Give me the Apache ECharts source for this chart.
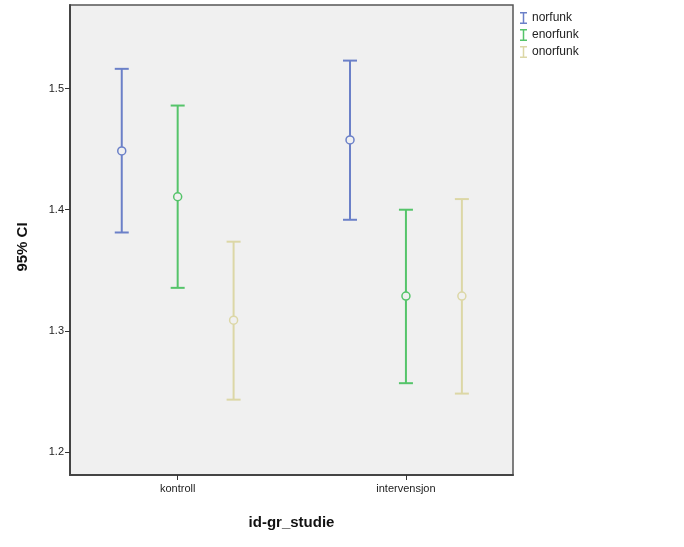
<!DOCTYPE html>
<html><head><meta charset="utf-8">
<script src="https://cdn.jsdelivr.net/npm/echarts@6/dist/echarts.min.js"></script>
<style>html,body{margin:0;padding:0;background:#fff}#c{width:684px;height:547px}</style>
</head><body><div id="c"></div>
<script>
const categories = ['kontroll', 'intervensjon'];
const seriesNames = ['norfunk', 'enorfunk', 'onorfunk'];
const yTicks = [1.2, 1.3, 1.4, 1.5];
// per series: values for [kontroll, intervensjon]
const norfunkMean = [1.4485, 1.4576];
const norfunkLow  = [1.3812, 1.3917];
const norfunkHigh = [1.5163, 1.5231];
const enorfunkMean = [1.4107, 1.3287];
const enorfunkLow  = [1.3355, 1.2568];
const enorfunkHigh = [1.4860, 1.4000];
const onorfunkMean = [1.3088, 1.3287];
const onorfunkLow  = [1.2432, 1.2482];
const onorfunkHigh = [1.3736, 1.4088];

const colors = ['#6b80c8', '#55c46a', '#dcd7a6'];
const offsets = [-0.245, 0, 0.245];
const stats = [
  [norfunkLow, norfunkMean, norfunkHigh],
  [enorfunkLow, enorfunkMean, enorfunkHigh],
  [onorfunkLow, onorfunkMean, onorfunkHigh]
];

const chart = echarts.init(document.getElementById('c'));
const font = 'Liberation Sans, Arial, sans-serif';

const series = seriesNames.map((name, si) => ({
  name: name,
  type: 'custom',
  itemStyle: { color: colors[si] },
  data: categories.map((c, ci) => [ci + offsets[si], stats[si][0][ci], stats[si][1][ci], stats[si][2][ci]]),
  renderItem: function (params, api) {
    const x = api.value(0);
    const lo = api.coord([x, api.value(1)]);
    const mid = api.coord([x, api.value(2)]);
    const hi = api.coord([x, api.value(3)]);
    const hw = 7, r = 4;
    const st = { stroke: colors[si], lineWidth: 2, fill: null };
    return {
      type: 'group',
      children: [
        { type: 'line', shape: { x1: hi[0], y1: hi[1], x2: mid[0], y2: mid[1] - r }, style: st },
        { type: 'line', shape: { x1: mid[0], y1: mid[1] + r, x2: lo[0], y2: lo[1] }, style: st },
        { type: 'line', shape: { x1: hi[0] - hw, y1: hi[1], x2: hi[0] + hw, y2: hi[1] }, style: st },
        { type: 'line', shape: { x1: lo[0] - hw, y1: lo[1], x2: lo[0] + hw, y2: lo[1] }, style: st },
        { type: 'circle', shape: { cx: mid[0], cy: mid[1], r: r }, style: { stroke: colors[si], lineWidth: 1.5, fill: 'none' } }
      ]
    };
  }
}));

chart.setOption({
  animation: false,
  textStyle: { fontFamily: font },
  grid: { left: 70, right: 171, top: 5, bottom: 72, show: true, backgroundColor: '#f0f0f0', borderColor: '#555', borderWidth: 1.5 },
  legend: {
    orient: 'vertical', left: 515, top: 7, itemGap: 5, itemWidth: 7, itemHeight: 12,
    icon: 'path://M0,0h7v1.5h-2.75v9h2.75v1.5h-7v-1.5h2.75v-9h-2.75z',
    textStyle: { fontSize: 12, color: '#222', fontFamily: font },
    data: seriesNames
  },
  xAxis: {
    type: 'value', min: -0.4717, max: 1.469,
    name: 'id-gr_studie', nameLocation: 'middle', nameGap: 40,
    nameTextStyle: { fontSize: 15, fontWeight: 'bold', color: '#111', fontFamily: font },
    splitLine: { show: false },
    axisLine: { show: true, onZero: false, lineStyle: { color: '#444', width: 2 } },
    axisTick: { show: true, customValues: [0, 1], length: 5, lineStyle: { color: '#333' } },
    axisLabel: { customValues: [0, 1], formatter: v => categories[Math.round(v)], fontSize: 11, color: '#222', margin: 8 }
  },
  yAxis: {
    type: 'value', min: 1.181, max: 1.569,
    name: '95% CI', nameLocation: 'middle', nameGap: 40, nameRotate: 90,
    nameTextStyle: { fontSize: 15, fontWeight: 'bold', color: '#111', fontFamily: font, padding: [0, 0, 0, -14] },
    splitLine: { show: false },
    axisLine: { show: true, onZero: false, lineStyle: { color: '#444', width: 2 } },
    axisTick: { show: true, customValues: yTicks, length: 5, lineStyle: { color: '#333' } },
    axisLabel: { customValues: yTicks, formatter: v => v.toFixed(1), fontSize: 11, color: '#222', margin: 6 }
  },
  series: series
});
</script></body></html>
